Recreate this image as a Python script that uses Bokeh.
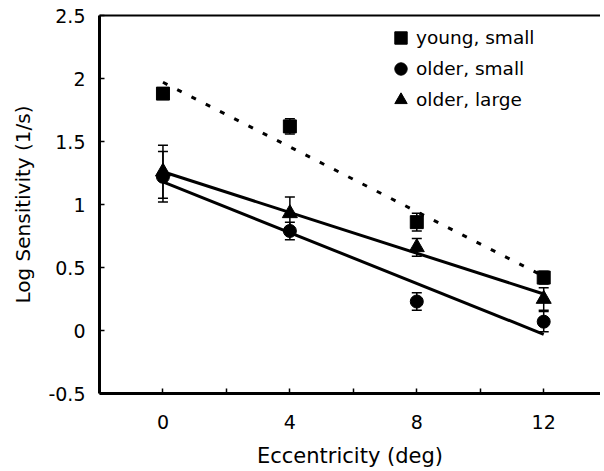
from bokeh.plotting import figure
from bokeh.models import (LinearAxis, FixedTicker, Whisker, TeeHead, ColumnDataSource,
                          Legend, LegendItem, Range1d)
from bokeh.embed import file_html
from bokeh.resources import INLINE

# ---- data ----
eccentricity = [0, 4, 8, 12]
young_small = [1.88, 1.62, 0.86, 0.42]
young_small_err = [0.03, 0.06, 0.07, 0.05]
older_small = [1.22, 0.79, 0.23, 0.07]
older_small_err = [0.20, 0.07, 0.07, 0.08]
older_large = [1.26, 0.93, 0.66, 0.25]
older_large_err = [0.21, 0.13, 0.07, 0.09]

fit_x = [0, 12]
young_small_fit = [1.97, 0.43]
older_small_fit = [1.18, -0.03]
older_large_fit = [1.26, 0.29]

series_labels = ["young, small", "older, small", "older, large"]
x_ticks = [0, 2, 4, 6, 8, 10, 12]
x_tick_labels = ["0", "", "4", "", "8", "", "12"]
y_ticks = [-0.5, 0, 0.5, 1, 1.5, 2, 2.5]
y_tick_labels = ["-0.5", "0", "0.5", "1", "1.5", "2", "2.5"]

FONT = "DejaVu Sans"

p = figure(width=600, height=470, output_backend="svg", toolbar_location=None,
           x_range=Range1d(-2, 13.79), y_range=Range1d(-0.5, 2.5),
           min_border_left=99, min_border_right=0, min_border_top=15, min_border_bottom=70)
p.outline_line_color = None
p.xgrid.visible = False
p.ygrid.visible = False
p.background_fill_color = "white"
p.border_fill_color = "white"

# fit lines
p.line(fit_x, young_small_fit, line_color="black", line_width=3, line_dash="5 11")
p.line(fit_x, older_small_fit, line_color="black", line_width=3)
p.line(fit_x, older_large_fit, line_color="black", line_width=3)

def add_series(vals, errs, marker, size):
    src = ColumnDataSource(dict(x=eccentricity, y=vals,
                                upper=[v + e for v, e in zip(vals, errs)],
                                lower=[v - e for v, e in zip(vals, errs)]))
    w = Whisker(base="x", upper="upper", lower="lower", source=src,
                line_color="black", line_width=1.5,
                upper_head=TeeHead(size=10, line_width=1.5, line_color="black"),
                lower_head=TeeHead(size=10, line_width=1.5, line_color="black"))
    p.add_layout(w)
    r = p.scatter("x", "y", source=src, marker=marker, size=size,
                  fill_color="black", line_color="black")
    return r

r_sq = add_series(young_small, young_small_err, "square", 13)
r_ci = add_series(older_small, older_small_err, "circle", 13)
r_tr = add_series(older_large, older_large_err, "triangle", 15)

# axes
xa = p.xaxis[0]
xa.ticker = FixedTicker(ticks=x_ticks)
xa.major_label_overrides = dict(zip(x_ticks, x_tick_labels))
ya = p.yaxis[0]
ya.ticker = FixedTicker(ticks=y_ticks)
ya.major_label_overrides = dict(zip(y_ticks, y_tick_labels))

for ax in (xa, ya):
    ax.axis_line_width = 3
    ax.axis_line_color = "black"
    ax.major_tick_in = 5
    ax.major_tick_out = 0
    ax.major_tick_line_width = 1.5
    ax.major_tick_line_color = "black"
    ax.minor_tick_line_color = None
    ax.major_label_text_font = FONT
    ax.major_label_text_font_size = "19px"
    ax.major_label_text_color = "black"
    ax.axis_label_text_font = FONT
    ax.axis_label_text_font_style = "normal"
    ax.axis_label_text_color = "black"

xa.axis_label = "Eccentricity (deg)"
xa.axis_label_text_font_size = "21px"
xa.major_label_standoff = 21
xa.axis_label_standoff = 12
ya.axis_label = "Log Sensitivity (1/s)"
ya.axis_label_text_font_size = "20px"
ya.major_label_standoff = 14
ya.axis_label_standoff = 10

top = LinearAxis(ticker=FixedTicker(ticks=[]), axis_line_width=2, axis_line_color="black",
                 major_tick_line_color=None, minor_tick_line_color=None,
                 major_tick_in=0, major_tick_out=0, major_label_standoff=0)
p.add_layout(top, "above")

legend = Legend(items=[LegendItem(label=series_labels[0], renderers=[r_sq]),
                       LegendItem(label=series_labels[1], renderers=[r_ci]),
                       LegendItem(label=series_labels[2], renderers=[r_tr])],
                location=(286, 278), orientation="vertical",
                glyph_width=31, glyph_height=31, label_height=31, spacing=-1,
                label_standoff=0, padding=0, margin=0,
                border_line_alpha=0, background_fill_alpha=0,
                label_text_font=FONT, label_text_font_size="18.5px",
                label_text_color="black")
p.add_layout(legend)

open("out.html", "w").write(file_html(p, INLINE))
